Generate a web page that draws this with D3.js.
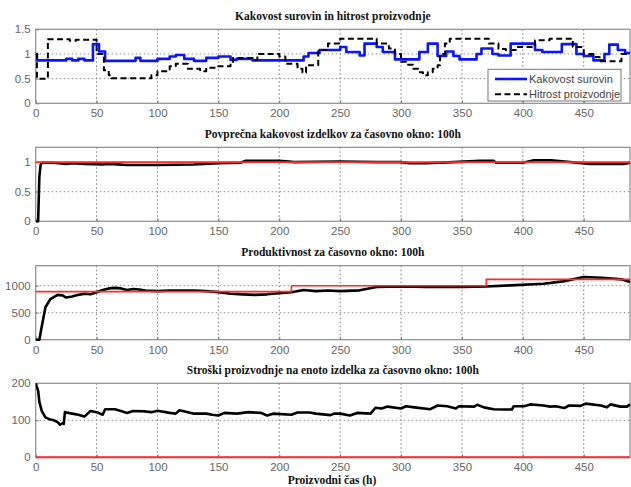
<!DOCTYPE html>
<html><head><meta charset="utf-8">
<script src="https://cdn.jsdelivr.net/npm/d3@7"></script>
<style>body{margin:0;background:#fff}svg{display:block}</style>
</head><body>
<script>
// ---------- DATA ----------
const xTicks = [0,50,100,150,200,250,300,350,400,450];
const titles = [
  "Kakovost surovin in hitrost proizvodnje",
  "Povprečna kakovost izdelkov za časovno okno: 100h",
  "Produktivnost za časovno okno: 100h",
  "Stroški proizvodnje na enoto izdelka za časovno okno: 100h"
];
const xLabel = "Proizvodni čas (h)";
const legendLabels = ["Kakovost surovin","Hitrost proizvodnje"];
const yTicks1 = [0,0.5,1,1.5];
const yTicks2 = [0,0.5,1];
const yTicks3 = [0,500,1000];
const yTicks4 = [0,100,200];

// Panel 1 - raw material quality (step)
const qualX = [0,1,25,30,35,40,47,52,57,82,86,100,110,115,122,130,140,150,160,165,178,220,224,233,250,255,266,270,280,285,295,315,322,330,337,343,348,362,366,375,380,390,410,416,425,432,444,450,458,467,471,478,484,488];
const qualY = [1.0,0.87,0.9,0.87,0.9,0.87,1.2,1.05,0.86,0.92,0.86,0.9,0.95,0.98,0.9,0.86,0.92,0.95,0.88,0.9,0.87,0.95,1.02,1.08,1.14,1.04,0.97,1.21,1.14,1.04,0.89,1.04,1.21,0.96,1.05,0.96,0.89,1.0,1.11,1.0,0.97,1.21,1.08,1.04,1.04,1.2,1.0,0.96,0.87,1.0,1.19,1.08,1.02,1.02];
// Panel 1 - production speed (step)
const speedX = [0,1,10,28,33,50,56,60,62,95,100,110,115,125,135,140,150,160,162,178,182,200,205,215,219,222,232,240,250,280,290,295,300,305,310,314,318,322,326,330,332,336,340,372,380,386,395,410,422,441,450,458,463,481,488];
const speedY = [1.0,0.5,1.3,1.27,1.29,1.0,0.67,0.57,0.51,0.57,0.65,0.75,0.8,0.7,0.65,0.72,0.75,0.8,0.92,0.88,1.0,0.95,0.8,0.7,0.62,0.77,1.08,1.21,1.31,1.21,1.11,1.0,0.84,0.78,0.7,0.63,0.57,0.63,0.7,0.77,1.0,1.21,1.31,1.21,1.1,1.08,1.14,1.28,1.31,1.14,1.0,0.94,0.85,1.0,1.0];

// Panel 2 - average product quality
const avgQX = [0,2,3,4,5,8,15,25,30,40,55,60,75,100,130,150,168,172,200,208,212,250,280,300,307,320,343,365,376,378,400,409,423,455,483,488];
const avgQY = [0,0,0.75,0.95,0.99,0.99,0.99,0.97,0.98,0.97,0.96,0.97,0.95,0.95,0.96,0.98,0.99,1.02,1.02,1.01,1.0,1.01,1.0,1.0,0.98,0.98,1.0,1.02,1.02,0.99,0.99,1.03,1.03,0.97,0.97,0.99];
const avgQRefX = [0,488];
const avgQRefY = [1,1];

// Panel 3 - productivity
const prodX = [0,3,5,8,12,18,22,25,30,35,40,45,50,55,60,65,70,75,80,85,90,100,110,120,130,140,150,160,170,180,190,200,210,220,230,240,250,266,280,300,320,350,370,390,417,433,450,465,481,488];
const prodY = [0,0,250,600,750,830,820,780,800,830,850,840,880,920,950,960,950,920,940,930,910,900,910,910,910,900,880,850,840,830,840,860,880,920,900,910,900,914,975,988,975,975,985,1006,1037,1080,1160,1148,1117,1068];
const prodRefX = [0,210,370,488];
const prodRefY = [890,1000,1117,1117];

// Panel 4 - cost per unit
const costX = [0,2,3,5,8,12,15,18,20,22,23,24,30,35,40,45,50,55,57,65,70,75,80,90,95,100,110,115,118,125,130,140,145,150,155,165,175,185,190,195,210,215,225,230,242,245,250,258,264,275,279,284,289,300,304,311,324,330,338,345,347.5,360,362.5,368,376,384.5,391,392.5,401,406,417,422.5,427,434,438,447.5,451.5,464,469,472,480,485.5,488];
const costY = [200,180,150,125,108,102,100,95,88,92,90,122,118,115,110,125,122,115,130,130,125,120,125,124,122,126,120,118,127,122,118,118,115,113,120,118,122,120,113,118,115,121,121,118,114,118,118,113,120,118,134,132,137,132,138,135,130,140,138,132,138,137,142,135,130,129,129,138,138,143,140,137,138,133,140,139,145,140,135,143,137,137,143];
const costRefX = [0,488];
const costRefY = [0,0];

// ---------- LAYOUT ----------
const W = 631, H = 487;
const left = 35.7, right = 630;
const panelH = 74;
const tops = [29.3, 147.3, 265.7, 383.3];
const yMax = [1.5, 1.25, 1370, 200];
const yTickSets = [yTicks1, yTicks2, yTicks3, yTicks4];

const svg = d3.select("body").append("svg").attr("width", W).attr("height", H)
  .style("font-family", "'Liberation Sans', Arial, sans-serif");
svg.append("rect").attr("width", W).attr("height", H).attr("fill", "#fff");

const x = d3.scaleLinear().domain([0, 488]).range([left, right]);

function zip(xs, ys){ return xs.map((v,i)=>[v, ys[i]]); }

const panels = [];
for (let p = 0; p < 4; p++) {
  const top = tops[p], bottom = top + panelH;
  const y = d3.scaleLinear().domain([0, yMax[p]]).range([bottom, top]);
  const g = svg.append("g");
  const clipId = "clip" + p;
  svg.append("clipPath").attr("id", clipId).append("rect")
    .attr("x", left).attr("y", top - 2).attr("width", right - left + 2).attr("height", panelH + 4);
  // grid
  const grid = g.append("g");
  xTicks.forEach(t => {
    if (t === 0) return;
    grid.append("line").attr("x1", x(t)).attr("x2", x(t)).attr("y1", top).attr("y2", bottom)
      .attr("stroke", "#777").attr("stroke-width", 1).attr("stroke-dasharray", "1.5,2.5");
  });
  yTickSets[p].forEach(t => {
    if (t === 0 || t === yMax[p]) return;
    grid.append("line").attr("x1", left).attr("x2", right).attr("y1", y(t)).attr("y2", y(t))
      .attr("stroke", "#8a8a8a").attr("stroke-width", 1).attr("stroke-dasharray", "1.5,2.5");
  });
  // axes (ticks inside)
  const xa = g.append("g").attr("transform", `translate(0,${bottom})`)
    .call(d3.axisBottom(x).tickValues(xTicks).tickSize(-3).tickPadding(6).tickFormat(d3.format("d")));
  const ya = g.append("g").attr("transform", `translate(${left},0)`)
    .call(d3.axisLeft(y).tickValues(yTickSets[p]).tickSize(-3).tickPadding(5).tickFormat(d => String(d)));
  [xa, ya].forEach(a => {
    a.select(".domain").remove();
    a.selectAll("line").attr("stroke", "#777");
    a.selectAll("text").attr("fill", "#666").style("font-size", "11.5px")
      .style("font-family", "'Liberation Sans', Arial, sans-serif");
  });
  // frame
  g.append("rect").attr("x", left).attr("y", top).attr("width", right - left).attr("height", panelH)
    .attr("fill", "none").attr("stroke", "#8c8c8c").attr("stroke-width", 1.2);
  // title
  svg.append("text").attr("x", (left + right) / 2).attr("y", top - 9.5)
    .attr("text-anchor", "middle").attr("font-weight", "bold")
    .style("font-family", "'Liberation Serif', 'Times New Roman', serif").style("font-size", "11.5px")
    .attr("fill", "#111").text(titles[p]);
  panels.push({ g, y, clipId });
}

function drawLine(p, xs, ys, color, width, curve, dash) {
  const pn = panels[p];
  const line = d3.line().x(d => x(d[0])).y(d => pn.y(d[1])).curve(curve || d3.curveLinear);
  const path = svg.append("path").datum(zip(xs, ys)).attr("d", line)
    .attr("fill", "none").attr("stroke", color).attr("stroke-width", width)
    .attr("stroke-linejoin", "round").attr("clip-path", `url(#${pn.clipId})`);
  if (dash) path.attr("stroke-dasharray", dash);
  return path;
}

// Panel 1
drawLine(0, qualX, qualY, "#0a14ff", 2.6, d3.curveStepAfter);
drawLine(0, speedX, speedY, "#000", 2, d3.curveStepAfter, "6,3.5");
// Panel 2
drawLine(1, avgQX, avgQY, "#000", 2.6);
drawLine(1, avgQRefX, avgQRefY, "#ff2a2a", 1.6);
// Panel 3
drawLine(2, prodX, prodY, "#000", 2.6);
drawLine(2, prodRefX, prodRefY, "#ff2a2a", 1.6, d3.curveStepAfter);
// Panel 4
drawLine(3, costX, costY, "#000", 2.6);
drawLine(3, costRefX, costRefY, "#ff2a2a", 2);

// Legend
const lg = svg.append("g");
lg.append("rect").attr("x", 488).attr("y", 69.3).attr("width", 133).attr("height", 31.7)
  .attr("fill", "#fff").attr("stroke", "#777").attr("stroke-width", 1);
const legStyles = [{c:"#0a14ff", w:2.6, d:null}, {c:"#000", w:2, d:"6,3.5"}];
legendLabels.forEach((lab, i) => {
  const yy = 79 + i * 15.3;
  const l = lg.append("line").attr("x1", 495).attr("x2", 527).attr("y1", yy).attr("y2", yy)
    .attr("stroke", legStyles[i].c).attr("stroke-width", legStyles[i].w);
  if (legStyles[i].d) l.attr("stroke-dasharray", legStyles[i].d);
  lg.append("text").attr("x", 529).attr("y", yy + 4).attr("fill", "#444")
    .style("font-size", "11px").text(lab);
});

// X label
svg.append("text").attr("x", 332).attr("y", 484).attr("text-anchor", "middle")
  .attr("font-weight", "bold").style("font-family", "'Liberation Serif', 'Times New Roman', serif")
  .style("font-size", "11.5px").attr("fill", "#111").text(xLabel);
</script>
</body></html>
